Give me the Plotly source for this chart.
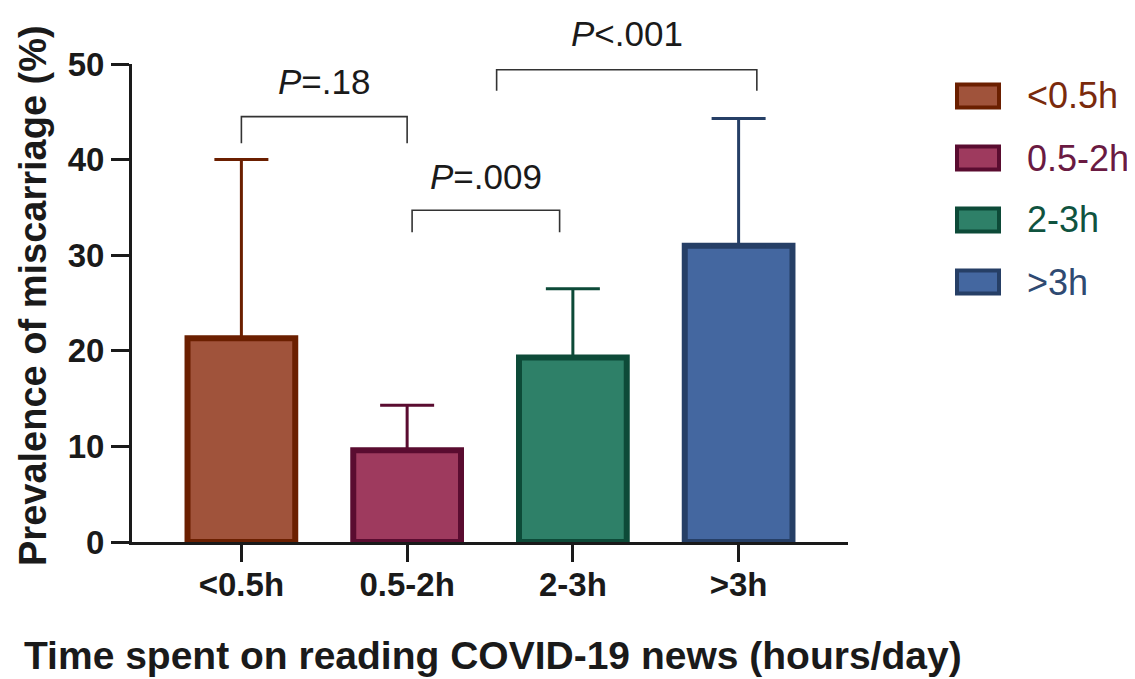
import plotly.graph_objects as go

# ---- data ----
categories = ["<0.5h", "0.5-2h", "2-3h", ">3h"]
prevalence = [21.3, 9.6, 19.3, 31.0]
upper_error = [40.0, 14.3, 26.5, 44.3]
fill_colors = ["#A0533B", "#9E3A5E", "#2E8068", "#4467A0"]
line_colors = ["#6B1F00", "#5A0C30", "#0D4A38", "#263F66"]
text_colors = ["#7A2A0C", "#6A1A42", "#10533F", "#2F4A72"]

# significance brackets: (x_left, x_right, y_top, y_leg, label, label_y)
brackets = [
    (0.0, 1.0, 44.5, 41.7, "<i>P</i>=.18", 48.2),
    (1.03, 1.92, 34.7, 32.4, "<i>P</i>=.009", 38.2),
    (1.54, 3.11, 49.4, 47.2, "<i>P</i><.001", 53.2),
]

y_title = "Prevalence of miscarriage (%)"
x_title = "Time spent on reading COVID-19 news (hours/day)"

W, H = 1135, 679
OFF = 8  # page body margin
PL, PR, PT, PB = 132, 848, 64, 542  # target plot area in page pixels
ML = PL - OFF
MT = PT - OFF
MR = W - (PR - OFF)
MB = H - (PB - OFF)
plot_w = PR - PL
plot_h = PB - PT


def px_x(px):
    return (px - PL) / plot_w


def px_y(py):
    return (PB - py) / plot_h


def dy(v):
    return px_y(PB - v / 50.0 * plot_h)


FONT = "Liberation Sans, Arial, sans-serif"
AX = "#1a1a1a"

fig = go.Figure()
fig.add_trace(go.Bar(
    x=categories,
    y=prevalence,
    width=0.65,
    marker=dict(color=fill_colors, line=dict(color=line_colors, width=6)),
    showlegend=False,
))
# error bars (upper only), coloured per bar
for i, cat in enumerate(categories):
    fig.add_trace(go.Scatter(
        x=[cat], y=[prevalence[i]], mode="markers",
        marker=dict(size=0.1, color="rgba(0,0,0,0)"),
        error_y=dict(type="data", symmetric=False,
                     array=[upper_error[i] - prevalence[i]], arrayminus=[0],
                     color=line_colors[i], thickness=3, width=27),
        showlegend=False, hoverinfo="skip",
    ))

shapes = []
annotations = []
for x0, x1, yt, yl, lab, ly in brackets:
    shapes.append(dict(type="path", xref="x", yref="y",
                       path=f"M {x0},{yl} L {x0},{yt} L {x1},{yt} L {x1},{yl}",
                       line=dict(color="#333333", width=1.6)))
    annotations.append(dict(x=(x0 + x1) / 2, y=ly / 50.0, xref="x", yref="paper",
                            text=lab, showarrow=False, yanchor="middle",
                            font=dict(family=FONT, size=35, color="#1a1a1a")))

# custom legend
for i, cat in enumerate(categories):
    cy = 96 + i * 62
    shapes.append(dict(type="rect", xref="paper", yref="paper",
                       x0=px_x(957), x1=px_x(999), y0=px_y(cy + 11.5), y1=px_y(cy - 11.5),
                       fillcolor=fill_colors[i], line=dict(color=line_colors[i], width=4)))
    annotations.append(dict(x=px_x(1025), y=px_y(cy), xref="paper", yref="paper",
                            text=cat, showarrow=False, xanchor="left", yanchor="middle",
                            font=dict(family=FONT, size=36, color=text_colors[i])))

annotations.append(dict(x=px_x(33), y=px_y(296), xref="paper", yref="paper",
                        text=y_title, textangle=-90, showarrow=False,
                        xanchor="center", yanchor="middle",
                        font=dict(family=FONT, size=38, color=AX, weight="bold")))
annotations.append(dict(x=px_x(493), y=px_y(655), xref="paper", yref="paper",
                        text=x_title, showarrow=False,
                        xanchor="center", yanchor="middle",
                        font=dict(family=FONT, size=39, color=AX, weight="bold")))

fig.update_layout(
    width=W, height=H,
    margin=dict(l=ML, r=MR, t=MT, b=MB),
    paper_bgcolor="white", plot_bgcolor="white",
    shapes=shapes, annotations=annotations,
    showlegend=False,
    xaxis=dict(range=[-0.66, 3.66], showline=True, linewidth=3, linecolor=AX,
               ticks="outside", ticklen=17, tickwidth=3, tickcolor=AX,
               ticklabelstandoff=-6,
               showgrid=False, zeroline=False,
               tickfont=dict(family=FONT, size=33, color=AX, weight="bold")),
    yaxis=dict(range=[0, 50], dtick=10, showline=True, linewidth=3, linecolor=AX,
               ticks="outside", ticklen=18, tickwidth=3, tickcolor=AX,
               showgrid=False, zeroline=False,
               tickfont=dict(family=FONT, size=33, color=AX, weight="bold")),
)

fig.write_html("out.html")
